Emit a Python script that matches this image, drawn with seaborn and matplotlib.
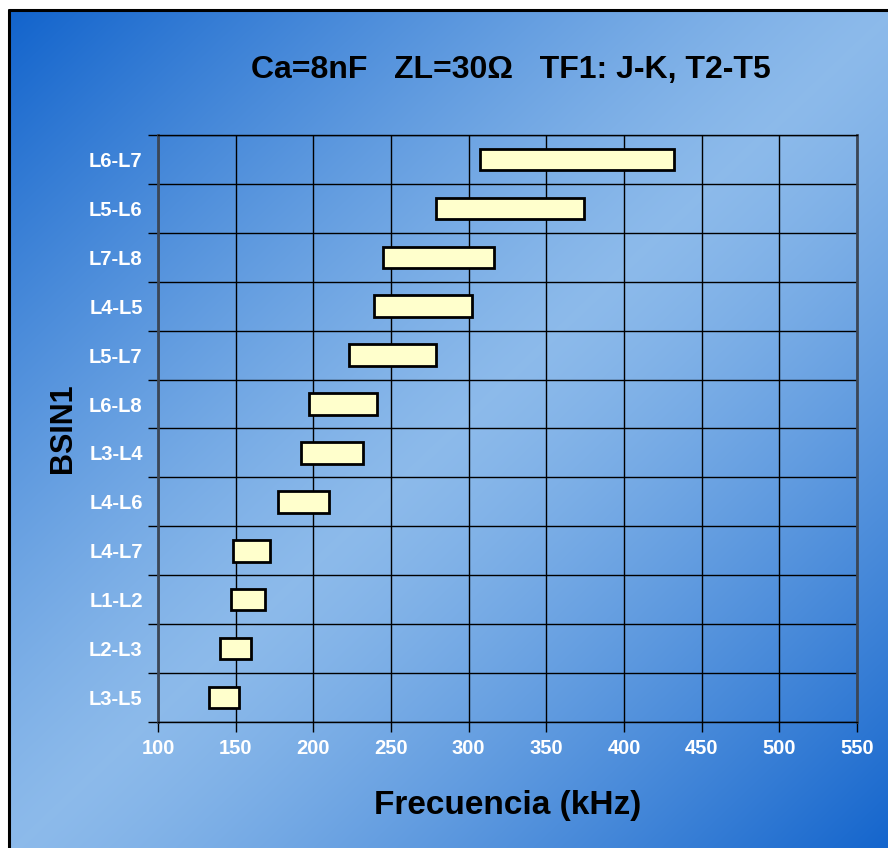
import numpy as np
import pandas as pd
import matplotlib
matplotlib.use("Agg")
import matplotlib.pyplot as plt
import seaborn as sns

# Frequency bands per winding pair (kHz)
pairs = ["L6-L7", "L5-L6", "L7-L8", "L4-L5", "L5-L7", "L6-L8",
         "L3-L4", "L4-L6", "L4-L7", "L1-L2", "L2-L3", "L3-L5"]
f_start = [307, 279, 245, 239, 223, 197, 192, 177, 148, 147, 140, 133]
f_end = [432, 374, 316, 302, 279, 241, 232, 210, 172, 169, 160, 152]
x_ticks = [100, 150, 200, 250, 300, 350, 400, 450, 500, 550]

title = "Ca=8nF   ZL=30\u03a9   TF1: J-K, T2-T5"
x_label = "Frecuencia (kHz)"
y_label = "BSIN1"

df = pd.DataFrame({"pair": pairs, "start": f_start, "end": f_end})

sns.set_style("white")
plt.rcParams["font.family"] = ["Liberation Sans", "DejaVu Sans"]
plt.rcParams["font.weight"] = "bold"

W, H = 888, 848
fig = plt.figure(figsize=(W / 100, H / 100), dpi=100)
fig.patch.set_facecolor("white")

# Diagonal blue gradient panel behind everything, running off the right and bottom edges
bx0, by_top = 9, 10
ext = 6
bg = fig.add_axes([bx0 / W, -ext / H, 1 - (bx0 - ext) / W, 1 - (by_top - ext) / H],
                  zorder=-10)
gw, gh = W - bx0 + ext, H - by_top + ext
yy, xx = np.mgrid[0:gh, 0:gw]
t = (xx / gw + yy / gh) / 2.0
d = np.abs(2 * t - 1) ** 1.25
dark = np.array([0.07, 0.39, 0.80])
light = np.array([0.55, 0.73, 0.92])
img = light[None, None, :] + (dark - light)[None, None, :] * d[..., None]
bg.imshow(img, aspect="auto", extent=[0, 1, 0, 1], origin="upper")
bg.plot([0, 1], [1, 1], color="black", lw=2.2, transform=bg.transAxes, clip_on=False)
bg.plot([0, 0], [0, 1], color="black", lw=2.2, transform=bg.transAxes, clip_on=False)
bg.set_xlim(0, 1)
bg.set_ylim(0, 1)
bg.axis("off")

ax = fig.add_axes([158 / W, 1 - 722 / H, (857 - 158) / W, (722 - 135) / H])
ax.set_facecolor("none")

sns.barplot(data=df, x="end", y="pair", order=pairs, orient="h",
            color="#FFFFCC", saturation=1, width=0.44,
            edgecolor="black", linewidth=2.0, ax=ax, zorder=3)

# Turn each bar into a floating band from start to end frequency
for patch in ax.patches:
    idx = int(round(patch.get_y() + patch.get_height() / 2))
    s, e = f_start[idx], f_end[idx]
    patch.set_x(s)
    patch.set_width(e - s)

ax.set_xlim(100, 550)
ax.set_ylim(len(pairs) - 0.5, -0.5)
ax.set_xticks(x_ticks)
ax.set_xticklabels([str(v) for v in x_ticks])
ax.set_yticks(range(len(pairs)))
ax.set_yticklabels(pairs)
ax.set_yticks(np.arange(-0.5, len(pairs), 1.0), minor=True)

ax.grid(True, axis="x", which="major", color="black", lw=1.0, zorder=1)
ax.grid(True, axis="y", which="minor", color="black", lw=1.0, zorder=1)
ax.grid(False, axis="y", which="major")
ax.set_axisbelow(True)

ax.tick_params(axis="x", which="major", direction="out", length=7, width=1.0,
               color="black", labelcolor="white", labelsize=14.5, pad=5, bottom=True)
ax.tick_params(axis="y", which="major", length=0, labelcolor="white",
               labelsize=14.5, pad=11)
ax.tick_params(axis="y", which="minor", direction="out", length=7.5, width=1.0,
               color="black", left=True)
for lbl in ax.get_xticklabels() + ax.get_yticklabels():
    lbl.set_fontweight("bold")

for side in ["top", "bottom"]:
    ax.spines[side].set_color("black")
    ax.spines[side].set_linewidth(1.0)
ax.spines["left"].set_color("#3b4656")
ax.spines["left"].set_linewidth(2.0)
ax.spines["right"].set_color("#3b4656")
ax.spines["right"].set_linewidth(2.0)
for sp in ax.spines.values():
    sp.set_visible(True)

ax.set_xlabel(x_label, fontsize=24, fontweight="bold", color="black", labelpad=23)
ax.set_ylabel(y_label, fontsize=22, fontweight="bold", color="black", labelpad=8)

fig.text(511 / W, 1 - 70 / H, title, ha="center", va="center",
         fontsize=23, fontweight="bold", color="black")

fig.savefig("out.png", dpi=100)
